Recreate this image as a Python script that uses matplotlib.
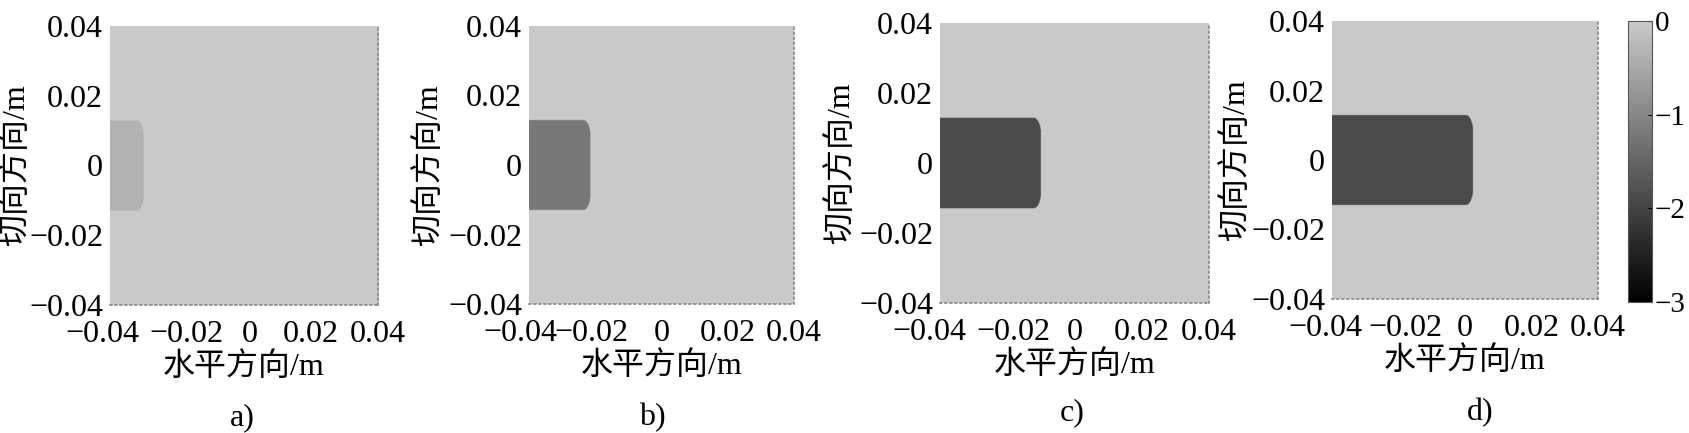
import numpy as np
import matplotlib
matplotlib.use("Agg")
import matplotlib.pyplot as plt
import matplotlib.transforms as mtransforms
from matplotlib.colors import LinearSegmentedColormap

plt.rcParams['font.family'] = ['Liberation Serif', 'Noto Sans CJK SC']
plt.rcParams['font.size'] = 23
plt.rcParams['axes.unicode_minus'] = True

# datos de cada panel
panel_tags = ["a)", "b)", "c)", "d)"]
edge_x = [-0.030, -0.0215, -0.010, 0.0024]      # borde derecho de la zona de contacto (m)
half_width = [0.013, 0.013, 0.013, 0.013]        # semiancho en direccion tangencial (m)
depth = [-0.35, -1.2, -1.87, -1.87]             # valor dentro de la zona
ticks = [-0.04, -0.02, 0, 0.02, 0.04]
tick_labels = ["\u22120.04", "\u22120.02", "0", "0.02", "0.04"]
cbar_ticks = [0, -1, -2, -3]
cbar_labels = ["0", "\u22121", "\u22122", "\u22123"]

W, H = 1689, 433
# posiciones de los ejes en pixeles (izq, arriba, der, abajo)
boxes = [(110, 26, 378, 305), (529, 26, 794, 304), (940, 23, 1209, 303), (1332, 21, 1598, 299)]
ylab_x = [15, 428, 840, 1235]
tag_xy = [(242, 418), (652, 418), (1072, 413), (1480, 413)]
# corrimiento horizontal (px) de las etiquetas del eje x, como en la figura original
xlab_shift = [[-8, 9, 6, 0, 0], [-9, -4, 0, 0, 0], [-11, 6, 0, 0, 0], [-7, 7, 0, 0, 0]]

cmap = LinearSegmentedColormap.from_list("g", [(0, 0, 0), (0.79, 0.79, 0.79)])

n = 600
xs = np.linspace(-0.04, 0.04, n)
ys = np.linspace(-0.04, 0.04, n)
X, Y = np.meshgrid(xs, ys)
rx, ry = 0.0022, 0.0045

fig = plt.figure(figsize=(W / 100, H / 100), dpi=100)

def ax_box(l, t, r, b):
    return [l / W, 1 - b / H, (r - l) / W, (b - t) / H]

for i in range(4):
    ax = fig.add_axes(ax_box(*boxes[i]))
    h = half_width[i]
    xe = edge_x[i]
    # esquina redondeada
    dy = np.clip(np.abs(Y) - (h - ry), 0, None) / ry
    lim = xe - rx + rx * np.sqrt(np.clip(1 - dy ** 2, 0, None))
    inside = (np.abs(Y) <= h) & (X <= lim)
    Z = np.where(inside, depth[i], 0.0)
    im = ax.imshow(Z, extent=[-0.04, 0.04, -0.04, 0.04], origin="lower",
                   cmap=cmap, vmin=-3, vmax=0, interpolation="bilinear", aspect="auto")
    ax.set_xlim(-0.04, 0.04)
    ax.set_ylim(-0.04, 0.04)
    ax.set_xticks(ticks)
    ax.set_xticklabels(tick_labels)
    ax.set_yticks(ticks)
    ax.set_yticklabels(tick_labels)
    ax.tick_params(length=0, pad=5)
    ax.tick_params(axis="x", pad=11)
    for s in ["left", "top"]:
        ax.spines[s].set_visible(False)
    for s in ["right", "bottom"]:
        ax.spines[s].set_linestyle((0, (1, 2)))
        ax.spines[s].set_color("#888888")
        ax.spines[s].set_linewidth(1.2)
    ax.set_xlabel("水平方向/m", labelpad=2)
    ax.set_ylabel("切向方向/m")
    l, t, r, b = boxes[i]
    ax.yaxis.set_label_coords((ylab_x[i] + 16 - l) / (r - l), 0.5)
    for lab, dx in zip(ax.get_xticklabels(), xlab_shift[i]):
        off = mtransforms.ScaledTranslation(dx / 100, 0, fig.dpi_scale_trans)
        lab.set_transform(lab.get_transform() + off)
    fig.text(tag_xy[i][0] / W, 1 - tag_xy[i][1] / H, panel_tags[i], ha="center", va="center")

cax = fig.add_axes(ax_box(1628, 21, 1652, 302))
cb = fig.colorbar(im, cax=cax, ticks=cbar_ticks)
cb.ax.set_yticklabels(cbar_labels)
cb.ax.tick_params(length=3, width=0.8, pad=2, direction="in", labelsize=21)
cb.outline.set_linewidth(0.8)
cb.outline.set_edgecolor("#555555")

fig.savefig("out.png", dpi=100)
